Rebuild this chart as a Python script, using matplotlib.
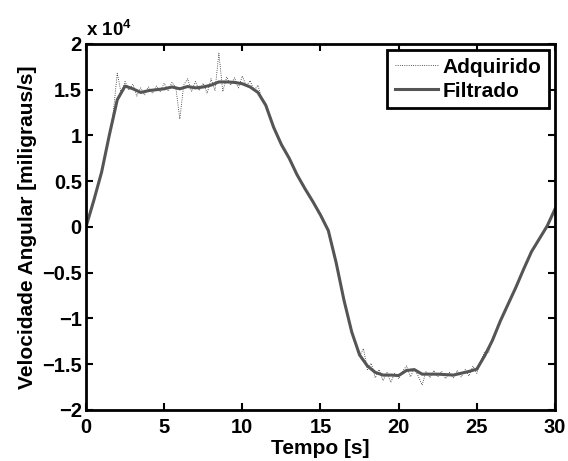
import numpy as np
import matplotlib.pyplot as plt
from matplotlib.ticker import FuncFormatter

plt.rcParams['font.family'] = ['Liberation Sans', 'DejaVu Sans']
plt.rcParams['font.weight'] = 'bold'
plt.rcParams['font.size'] = 15
plt.rcParams['mathtext.default'] = 'regular'

# sinal filtrado (a cada 0.5 s)
t_filt = [0.0, 0.5, 1.0, 1.5, 2.0, 2.5, 3.0, 3.5, 4.0, 4.5, 5.0, 5.5, 6.0, 6.5, 7.0, 7.5,
          8.0, 8.5, 9.0, 9.5, 10.0, 10.5, 11.0, 11.5, 12.0, 12.5, 13.0, 13.5, 14.0, 14.5,
          15.0, 15.5, 16.0, 16.5, 17.0, 17.5, 18.0, 18.5, 19.0, 19.5, 20.0, 20.5, 21.0,
          21.5, 22.0, 22.5, 23.0, 23.5, 24.0, 24.5, 25.0, 25.5, 26.0, 26.5, 27.0, 27.5,
          28.0, 28.5, 29.0, 29.5, 30.0]
v_filt = [0, 2900, 6000, 10100, 13900, 15400, 15100, 14700, 14900, 15000, 15100, 15300,
          15100, 15350, 15200, 15300, 15500, 15850, 15850, 15800, 15650, 15300, 14700,
          13300, 10900, 9000, 7500, 5700, 4200, 2800, 1300, -400, -3900, -8000, -11500,
          -14000, -15200, -15900, -16200, -16200, -16250, -15700, -15600, -16100, -16100,
          -16100, -16150, -16200, -16000, -15800, -15550, -14100, -12400, -10300, -8450,
          -6600, -4600, -2700, -1300, 100, 1950]

# sinal adquirido (a cada 0.25 s)
v_acq = [0, 1600, 2700, 4600, 5800, 8300, 9800, 12600, 16800, 14600, 15900, 15000,
         15600, 14300, 15200, 14400, 15300, 14600, 15400, 14800, 15700, 14900, 15800,
         15200, 11800, 15500, 16200, 14800, 15900, 14900, 15700, 14600, 16200, 14900,
         19000, 14800, 16400, 15500, 16300, 15200, 16500, 15400, 16000, 14900, 15500,
         13900, 13200, 12200, 10800, 10100, 8900, 8300, 7500, 6600, 5700, 5000, 4300,
         3500, 2900, 2100, 1400, 600, -500, -2000, -3900, -5900, -8100, -9800, -11500,
         -12800, -14100, -13300, -15600, -14900, -16500, -15600, -16800, -15900, -17000,
         -16000, -16600, -15800, -15200, -16400, -15500, -16300, -17300, -15800, -16500,
         -15700, -16400, -15800, -16600, -15900, -16500, -15700, -16400, -15600, -16300,
         -15200, -16000, -14700, -13600, -13800, -12100, -11400, -10300, -9300, -8500,
         -7500, -6500, -5700, -4600, -3700, -2700, -2000, -1300, -500, 100, 900, 1950]
t_acq = np.linspace(0, 30, len(v_acq))

fig = plt.figure(figsize=(5.68, 4.61), dpi=100)
ax = fig.add_axes([0.1514, 0.111, 0.8257, 0.7936])

ax.plot(t_acq, v_acq, ':', color='#222222', linewidth=0.6, label='Adquirido')
ax.plot(t_filt, v_filt, '-', color='#555555', linewidth=2.2, label='Filtrado')

ax.set_xlim(0, 30)
ax.set_ylim(-20000, 20000)
ax.set_xticks([0, 5, 10, 15, 20, 25, 30])
ax.set_yticks(np.arange(-20000, 20001, 5000))
ax.yaxis.set_major_formatter(FuncFormatter(lambda v, p: f'{v/1e4:g}'.replace('-', '\u2212')))
ax.tick_params(direction='in', length=5, width=1.5, top=True, right=True, labelsize=14.5)
ax.tick_params(axis='x', pad=6)
ax.tick_params(axis='y', pad=3)
for s in ax.spines.values():
    s.set_linewidth(2)

ax.text(0.0, 1.01, r'x 10$^4$', transform=ax.transAxes, fontsize=13.5, fontweight='bold',
        ha='left', va='bottom')

ax.set_xlabel('Tempo [s]', fontsize=15, fontweight='bold', labelpad=1)
ax.set_ylabel('Velocidade Angular [miligraus/s]', fontsize=15, fontweight='bold', labelpad=4)

leg = ax.legend(loc='upper right', fancybox=False, framealpha=1, edgecolor='black',
                fontsize=15, borderpad=0.35, handlelength=2.1, handletextpad=0.2,
                labelspacing=0.25, borderaxespad=0.3)
leg.get_frame().set_linewidth(2)

fig.savefig('out.png', dpi=100)
